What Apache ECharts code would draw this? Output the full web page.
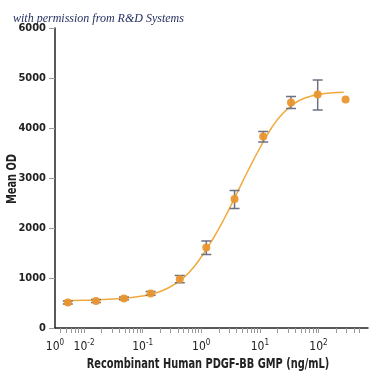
<!DOCTYPE html>
<html>
<head>
<meta charset="utf-8">
<script src="https://cdn.jsdelivr.net/npm/echarts@6/dist/echarts.min.js"></script>
<style>
    html, body { margin: 0; padding: 0; background: #fff; }
    #chart_show { width: 375px; height: 375px; }
</style>
</head>
<body>
<div id="chart_show"></div>
<script>
// 数据点 (ng/mL, Mean OD)
var doseValues = [0.0053, 0.016, 0.048, 0.137, 0.43, 1.22, 3.7, 11.4, 34, 97, 290];
var meanValues = [510, 540, 590, 690, 975, 1610, 2580, 3830, 4510, 4670, 4570];
var errLow = [480, 510, 565, 655, 905, 1470, 2390, 3720, 4390, 4360, null];
var errHigh = [540, 570, 620, 730, 1050, 1740, 2750, 3930, 4630, 4960, null];

// 拟合曲线
var curveX = [0.0046, 0.01, 0.0316, 0.1, 0.2, 0.4, 0.63, 1, 1.58, 2.5, 4, 6.3, 10, 15.8, 25, 40, 63, 100, 158, 270];
var curveY = [545, 555, 580, 640, 730, 920, 1120, 1420, 1780, 2200, 2680, 3150, 3600, 4000, 4300, 4500, 4610, 4670, 4700, 4715];

var yTicks = [0, 1000, 2000, 3000, 4000, 5000, 6000];
var xMajor = [0.01, 0.1, 1, 10, 100];
var xMinor = [0.004, 0.005, 0.006, 0.007, 0.008, 0.009,
    0.02, 0.03, 0.04, 0.05, 0.06, 0.07, 0.08, 0.09,
    0.2, 0.3, 0.4, 0.5, 0.6, 0.7, 0.8, 0.9,
    2, 3, 4, 5, 6, 7, 8, 9,
    20, 30, 40, 50, 60, 70, 80, 90,
    200, 300, 400, 500];
var xMin = 0.0032;
var xMax = 700;

var xTitle = 'Recombinant Human PDGF-BB GMP (ng/mL)';
var yTitle = 'Mean OD';

var font = '"DejaVu Sans Condensed", "DejaVu Sans", sans-serif';

var Dose_Chart = {
    init: function () {
        var myChart = echarts.init(document.getElementById('chart_show'));
        myChart.setOption(this.formatChart());
    },
    labelText: function (v) {
        if (Math.abs(v - xMin) < 1e-6) {
            return '{b|10}{s|0}';
        }
        var p = Math.round(Math.log10(v));
        return '{b|10}{s|' + (p < 0 ? '-' + (-p) : p) + '}';
    },
    formatChart: function () {
        var content = this;
        var points = [], bars = [], line = [];
        var i;

        for (i = 0; i < doseValues.length; i++) {
            points.push([doseValues[i], meanValues[i]]);
            if (errLow[i] !== null) {
                bars.push([doseValues[i], errLow[i], errHigh[i]]);
            }
        }
        for (i = 0; i < curveX.length; i++) {
            line.push([curveX[i], curveY[i]]);
        }

        return {
            animation: false,
            title: {
                text: 'with permission from R&D Systems',
                left: 8,
                top: 8,
                textStyle: {
                    fontFamily: '"Liberation Serif", serif',
                    fontStyle: 'italic',
                    fontWeight: 'normal',
                    fontSize: 12,
                    color: '#1e2a5c'
                }
            },
            // 轴标题 (窄体字, 横向压缩)
            graphic: [
                {
                    type: 'text',
                    x: 208,
                    y: 364,
                    scaleX: 0.78,
                    style: {
                        text: xTitle,
                        font: 'bold 14px ' + font,
                        fill: '#222',
                        align: 'center',
                        verticalAlign: 'middle'
                    }
                },
                {
                    type: 'text',
                    x: 12,
                    y: 179,
                    rotation: Math.PI / 2,
                    scaleX: 0.78,
                    style: {
                        text: yTitle,
                        font: 'bold 14px ' + font,
                        fill: '#222',
                        align: 'center',
                        verticalAlign: 'middle'
                    }
                }
            ],
            grid: {
                left: 55,
                right: 7,
                top: 28,
                bottom: 47,
                containLabel: false,
                outerBoundsMode: 'none'
            },
            xAxis: {
                type: 'log',
                logBase: 10,
                min: xMin,
                max: xMax,
                axisLine: { lineStyle: { color: '#222', width: 1.5 } },
                axisTick: {
                    show: true,
                    length: 5,
                    customValues: xMinor.concat(xMajor),
                    lineStyle: { color: '#999' }
                },
                axisLabel: {
                    customValues: [xMin].concat(xMajor),
                    margin: 11,
                    formatter: function (v) { return content.labelText(v); },
                    rich: {
                        b: { fontFamily: font, fontSize: 12, color: '#222', verticalAlign: 'bottom' },
                        s: { fontFamily: font, fontSize: 8, color: '#222', verticalAlign: 'top', padding: [0, 0, 6, 0] }
                    }
                },
                splitLine: { show: false }
            },
            yAxis: {
                type: 'value',
                min: yTicks[0],
                max: yTicks[yTicks.length - 1],
                interval: 1000,
                axisLine: { show: true, lineStyle: { color: '#222', width: 1.5 } },
                axisTick: { show: true, length: 6, lineStyle: { color: '#999' } },
                axisLabel: {
                    margin: 9,
                    fontFamily: font,
                    fontWeight: 'bold',
                    fontSize: 11,
                    color: '#222',
                    formatter: function (v) { return String(v); }
                },
                splitLine: { show: false }
            },
            series: [
                {
                    name: 'fit',
                    type: 'line',
                    data: line,
                    smooth: true,
                    showSymbol: false,
                    lineStyle: { color: '#f0aa3c', width: 1.5 },
                    z: 1
                },
                {
                    name: 'error',
                    type: 'custom',
                    data: bars,
                    renderItem: function (params, api) {
                        var x = api.value(0);
                        var lo = api.coord([x, api.value(1)]);
                        var hi = api.coord([x, api.value(2)]);
                        var w = 5;
                        var style = { stroke: '#6d7183', lineWidth: 1.5 };
                        return {
                            type: 'group',
                            children: [
                                { type: 'line', shape: { x1: lo[0], y1: lo[1], x2: hi[0], y2: hi[1] }, style: style },
                                { type: 'line', shape: { x1: lo[0] - w, y1: lo[1], x2: lo[0] + w, y2: lo[1] }, style: style },
                                { type: 'line', shape: { x1: hi[0] - w, y1: hi[1], x2: hi[0] + w, y2: hi[1] }, style: style }
                            ]
                        };
                    },
                    z: 2
                },
                {
                    name: 'mean',
                    type: 'scatter',
                    data: points,
                    symbolSize: 8,
                    itemStyle: { color: '#ea962e', opacity: 0.95 },
                    z: 3
                }
            ]
        };
    }
};

Dose_Chart.init();
</script>
</body>
</html>
